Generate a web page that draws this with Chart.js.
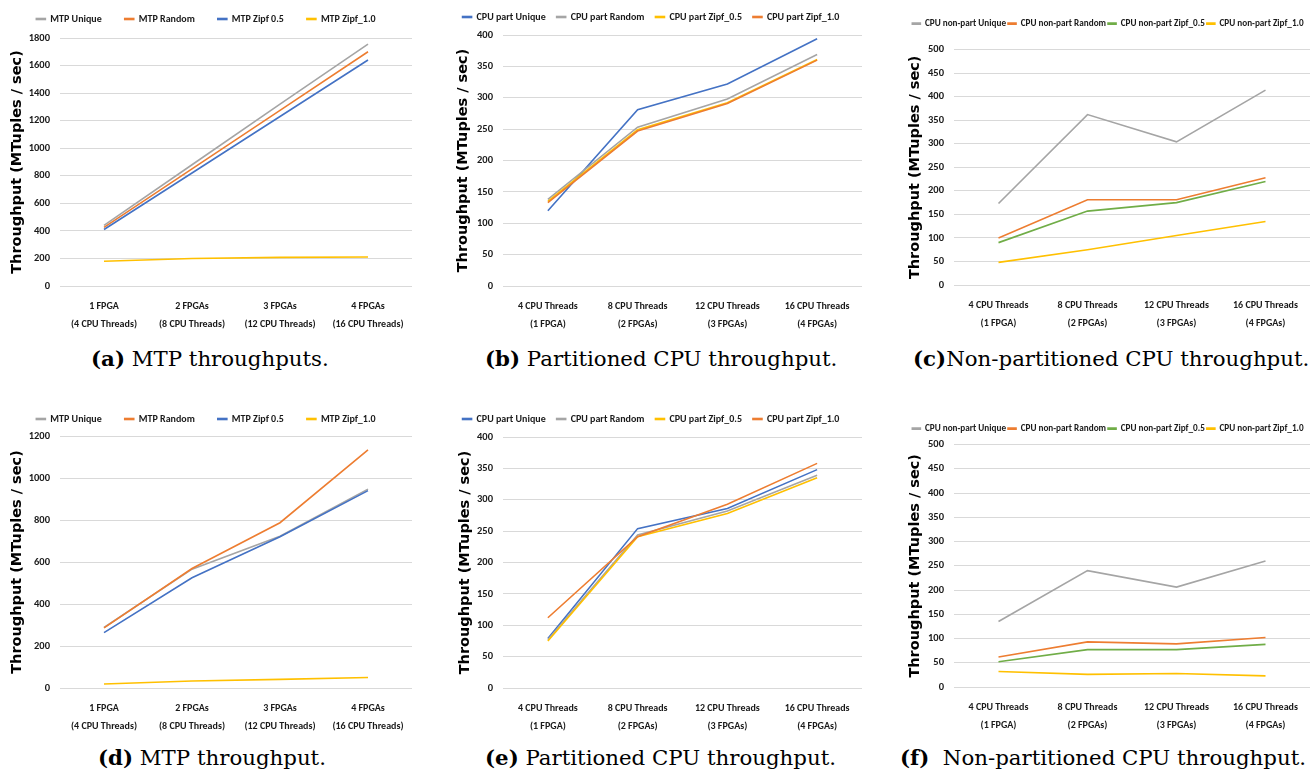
<!DOCTYPE html>
<html>
<head>
<meta charset="utf-8">
<script src="https://cdn.jsdelivr.net/npm/chart.js@4.4.0/dist/chart.umd.min.js"></script>
<style>
  body { margin: 0; background: #fff; width: 1310px; height: 773px; position: relative; overflow: hidden; }
  canvas { position: absolute; }
  .cap { position: absolute; font-family: "DejaVu Serif", "Liberation Serif", serif; font-size: 21.3px; color: #000; white-space: pre; line-height: 1; transform: translateY(-50%); }
</style>
</head>
<body>
<canvas id="chartA"></canvas>
<canvas id="chartB"></canvas>
<canvas id="chartC"></canvas>
<canvas id="chartD"></canvas>
<canvas id="chartE"></canvas>
<canvas id="chartF"></canvas>
<div class="cap" style="left:91px;top:359px"><b>(a)</b> MTP throughputs.</div>
<div class="cap" style="left:485px;top:359px"><b>(b)</b> Partitioned CPU throughput.</div>
<div class="cap" style="left:913px;top:359px"><b>(c)</b>Non-partitioned CPU throughput.</div>
<div class="cap" style="left:98px;top:758px"><b>(d)</b> MTP throughput.</div>
<div class="cap" style="left:485px;top:758px"><b>(e)</b> Partitioned CPU throughput.</div>
<div class="cap" style="left:900px;top:758px"><b>(f)</b>  Non-partitioned CPU throughput.</div>
<script>
// categories
const fpgaLabels = [["1 FPGA", "(4 CPU Threads)"], ["2 FPGAs", "(8 CPU Threads)"], ["3 FPGAs", "(12 CPU Threads)"], ["4 FPGAs", "(16 CPU Threads)"]];
const threadLabels = [["4 CPU Threads", "(1 FPGA)"], ["8 CPU Threads", "(2 FPGAs)"], ["12 CPU Threads", "(3 FPGAs)"], ["16 CPU Threads", "(4 FPGAs)"]];

// series names
const mtpNames = ["MTP Unique", "MTP Random", "MTP Zipf 0.5", "MTP Zipf_1.0"];
const partNames = ["CPU part Unique", "CPU part Random", "CPU part Zipf_0.5", "CPU part Zipf_1.0"];
const nonPartNames = ["CPU non-part Unique", "CPU non-part Random", "CPU non-part Zipf_0.5", "CPU non-part Zipf_1.0"];

// (a) MTP throughputs
const mtpUniqueA = [440, 880, 1320, 1755];
const mtpRandomA = [425, 850, 1275, 1700];
const mtpZipf05A = [410, 820, 1230, 1640];
const mtpZipf10A = [180, 200, 208, 210];

// (b) partitioned CPU
const partUniqueB = [120, 281, 322, 394];
const partRandomB = [138, 253, 298, 369];
const partZipf05B = [135, 249, 292, 361];
const partZipf10B = [133, 247, 291, 360];

// (c) non-partitioned CPU
const nonUniqueC = [173, 362, 304, 414];
const nonRandomC = [100, 181, 181, 228];
const nonZipf05C = [90, 157, 175, 220];
const nonZipf10C = [48, 75, 105, 135];

// (d) MTP throughput
const mtpUniqueD = [288, 566, 723, 947];
const mtpRandomD = [286, 569, 787, 1134];
const mtpZipf05D = [264, 525, 720, 940];
const mtpZipf10D = [19, 33, 41, 50];

// (e) partitioned CPU
const partUniqueE = [79, 254, 286, 348];
const partRandomE = [77, 244, 282, 339];
const partZipf05E = [75, 241, 278, 335];
const partZipf10E = [112, 241, 293, 358];

// (f) non-partitioned CPU
const nonUniqueF = [135, 240, 206, 260];
const nonRandomF = [62, 93, 89, 102];
const nonZipf05F = [52, 77, 77, 88];
const nonZipf10F = [32, 26, 28, 23];

// axis ranges
const yMaxA = 1800, yStepA = 200;
const yMaxB = 400, yStepB = 50;
const yMaxC = 500, yStepC = 50;
const yMaxD = 1200, yStepD = 200;

const GRAY = "#a5a5a5", ORANGE = "#ed7d31", BLUE = "#4472c4", YELLOW = "#ffc000", GREEN = "#70ad47";
const CAL = 'Carlito, "DejaVu Sans Condensed", sans-serif';
const TITLE_SIZE = 14.5;

function makeChart(id, g, labels, names, colors, series, yMax, yStep) {
  const canvas = document.getElementById(id);
  const canvasTop = g.legendC - g.legPad - g.legFont / 2;
  const xH = 50;
  const width = g.right - g.left;
  const height = g.gridBottom - canvasTop + xH;
  canvas.width = width;
  canvas.height = height;
  canvas.style.left = g.left + "px";
  canvas.style.top = canvasTop + "px";
  const legendH = g.gridTop - canvasTop;

  new Chart(canvas.getContext("2d"), {
    type: "line",
    data: {
      labels: labels,
      datasets: series.map((vals, i) => ({
        label: names[i],
        data: vals,
        borderColor: colors[i],
        backgroundColor: colors[i],
        borderWidth: 1.6,
        pointRadius: 0,
        tension: 0,
        order: -i
      }))
    },
    options: {
      responsive: false,
      animation: false,
      devicePixelRatio: 1,
      layout: { padding: { left: 0, right: g.right - g.plotRight, top: 0, bottom: 0 } },
      plugins: {
        tooltip: { enabled: false },
        legend: {
          position: "top",
          labels: {
            boxWidth: g.boxW,
            boxHeight: 1,
            padding: g.legPad,
            color: "#1a1a1a",
            font: { family: CAL, size: g.legFont, weight: "bold" },
            sort: (a, b) => a.datasetIndex - b.datasetIndex
          }
        }
      },
      scales: {
        x: {
          offset: true,
          grid: { display: false },
          border: { display: false },
          ticks: {
            color: "#1a1a1a",
            font: { family: CAL, size: 10, weight: "bold", lineHeight: 1.85 },
            padding: 3,
            maxRotation: 0,
            autoSkip: false
          },
          afterFit: (s) => { s.height = xH; }
        },
        y: {
          min: 0,
          max: yMax,
          grid: { color: "#d9d9d9", lineWidth: 1, drawTicks: false },
          border: { display: false },
          ticks: {
            stepSize: yStep,
            color: "#1a1a1a",
            font: { family: CAL, size: 10.5, weight: "bold" },
            padding: 10,
            callback: (v) => String(v)
          },
          title: {
            display: true,
            text: "Throughput (MTuples / sec)",
            color: "#000",
            font: { family: '"DejaVu Sans", sans-serif', size: TITLE_SIZE, weight: "bold" },
            padding: { top: g.titleX - g.left - TITLE_SIZE * 0.6, bottom: 0 }
          },
          afterFit: (s) => { s.width = g.plotLeft - g.left; }
        }
      }
    },
    plugins: [{
      id: "legendHeight",
      beforeInit(chart) {
        const fit = chart.legend.fit;
        chart.legend.fit = function () {
          fit.call(this);
          this.height = legendH;
        };
      }
    }]
  });
}

makeChart("chartA",
  { left: 0, right: 430, plotLeft: 60, plotRight: 412, gridTop: 38, gridBottom: 286, legendC: 19, titleX: 17, legPad: 23, legFont: 10, boxW: 9 },
  fpgaLabels, mtpNames, [GRAY, ORANGE, BLUE, YELLOW],
  [mtpUniqueA, mtpRandomA, mtpZipf05A, mtpZipf10A], yMaxA, yStepA);

makeChart("chartB",
  { left: 440, right: 885, plotLeft: 503, plotRight: 862, gridTop: 35, gridBottom: 286, legendC: 17, titleX: 463, legPad: 11, legFont: 10, boxW: 9 },
  threadLabels, partNames, [BLUE, GRAY, YELLOW, ORANGE],
  [partUniqueB, partRandomB, partZipf05B, partZipf10B], yMaxB, yStepB);

makeChart("chartC",
  { left: 906, right: 1310, plotLeft: 954, plotRight: 1310, gridTop: 50, gridBottom: 286, legendC: 24, titleX: 915, legPad: 2, legFont: 9.2, boxW: 8 },
  threadLabels, nonPartNames, [GRAY, ORANGE, GREEN, YELLOW],
  [nonUniqueC, nonRandomC, nonZipf05C, nonZipf10C], yMaxC, yStepC);

makeChart("chartD",
  { left: 0, right: 430, plotLeft: 60, plotRight: 412, gridTop: 436, gridBottom: 688, legendC: 419, titleX: 17, legPad: 23, legFont: 10, boxW: 9 },
  fpgaLabels, mtpNames, [GRAY, ORANGE, BLUE, YELLOW],
  [mtpUniqueD, mtpRandomD, mtpZipf05D, mtpZipf10D], yMaxD, yStepD);

makeChart("chartE",
  { left: 440, right: 885, plotLeft: 503, plotRight: 862, gridTop: 437, gridBottom: 688, legendC: 419, titleX: 465, legPad: 11, legFont: 10, boxW: 9 },
  threadLabels, partNames, [BLUE, GRAY, YELLOW, ORANGE],
  [partUniqueE, partRandomE, partZipf05E, partZipf10E], yMaxB, yStepB);

makeChart("chartF",
  { left: 906, right: 1310, plotLeft: 954, plotRight: 1310, gridTop: 445, gridBottom: 688, legendC: 429, titleX: 915, legPad: 2, legFont: 9.2, boxW: 8 },
  threadLabels, nonPartNames, [GRAY, ORANGE, GREEN, YELLOW],
  [nonUniqueF, nonRandomF, nonZipf05F, nonZipf10F], yMaxC, yStepC);
</script>
</body>
</html>
